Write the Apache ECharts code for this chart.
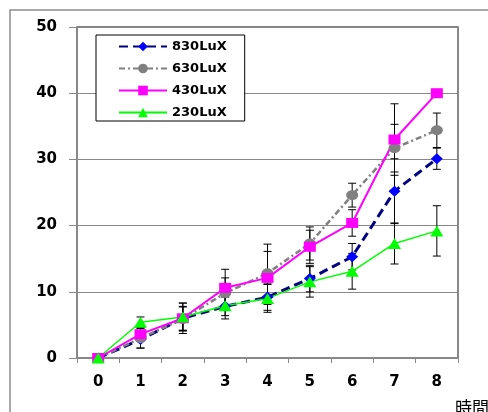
<!DOCTYPE html>
<html>
<head>
<meta charset="utf-8">
<script src="https://cdn.jsdelivr.net/npm/echarts@6/dist/echarts.min.js"></script>
<style>
  html, body { margin: 0; padding: 0; background: #fff; }
  #chart { width: 488px; height: 412px; }
</style>
</head>
<body>
<div id="chart"></div>
<script>
// 経過時間 (x軸カテゴリ)
const hours = ['0', '1', '2', '3', '4', '5', '6', '7', '8'];

// 照度ごとの平均値
const lux830 = [0, 2.8, 6.0, 7.8, 9.2, 12.0, 15.3, 25.2, 30.1];
const lux630 = [0, 3.0, 5.9, 9.8, 12.8, 17.3, 24.6, 31.7, 34.4];
const lux430 = [0, 3.6, 6.0, 10.6, 12.1, 16.8, 20.4, 33.0, 40.0];
const lux230 = [0, 5.4, 6.2, 7.9, 9.0, 11.5, 13.1, 17.3, 19.2];

// 誤差 (±)
const err830 = [0, 1.3, 2.3, 1.4, 2.0, 2.0, 2.0, 4.9, 1.6];
const err630 = [0, 1.5, 1.8, 2.3, 4.4, 2.5, 1.8, 3.6, 2.6];
const err430 = [0, 0.9, 1.8, 2.8, 4.0, 2.5, 2.0, 5.4, 0.5];
const err230 = [0, 0.8, 2.1, 2.0, 2.1, 2.3, 2.7, 3.1, 3.8];

const yTicks = [0, 10, 20, 30, 40, 50];

const chart = echarts.init(document.getElementById('chart'));

// エラーバー用の custom series
function errorBars(vals, errs) {
  return {
    type: 'custom',
    silent: true,
    z: 1,
    encode: { x: 0, y: 1 },
    data: vals.map((v, i) => [i, v, errs[i]]),
    renderItem: function (params, api) {
      const e = api.value(2);
      if (!e) return null;
      const x = api.value(0);
      const y = api.value(1);
      const top = api.coord([x, y + e]);
      const bot = api.coord([x, y - e]);
      const hw = 4;
      const st = { stroke: '#000', lineWidth: 1 };
      return {
        type: 'group',
        children: [
          { type: 'line', shape: { x1: top[0], y1: top[1], x2: bot[0], y2: bot[1] }, style: st },
          { type: 'line', shape: { x1: top[0] - hw, y1: top[1], x2: top[0] + hw, y2: top[1] }, style: st },
          { type: 'line', shape: { x1: bot[0] - hw, y1: bot[1], x2: bot[0] + hw, y2: bot[1] }, style: st }
        ]
      };
    }
  };
}

function lineSeries(name, data, lineColor, markColor, width, dash, symbol, size) {
  return {
    name: name,
    type: 'line',
    data: data,
    z: 3,
    symbol: symbol,
    symbolSize: size,
    lineStyle: { color: lineColor, width: width, type: dash },
    itemStyle: { color: markColor, borderWidth: 0 },
    emphasis: { disabled: true }
  };
}

const option = {
  animation: false,
  textStyle: { fontFamily: 'DejaVu Sans' },
  graphic: [
    {
      type: 'rect',
      shape: { x: 10, y: 10, width: 600, height: 600 },
      style: { fill: 'none', stroke: '#8c8c8c', lineWidth: 1.5 },
      silent: true
    },
    {
      type: 'text',
      left: 455,
      top: 399,
      style: { text: '時間', fontSize: 17, fill: '#000', fontFamily: 'Noto Sans CJK JP' }
    }
  ],
  legend: {
    orient: 'vertical',
    left: 96,
    top: 35,
    data: ['830LuX', '630LuX', '430LuX', '230LuX'],
    itemWidth: 48,
    itemHeight: 12,
    itemGap: 9,
    padding: [5, 18, 2, 22],
    backgroundColor: '#fff',
    borderColor: '#000',
    borderWidth: 1,
    borderRadius: 0,
    textStyle: { fontSize: 13, fontWeight: 'bold', color: '#000', fontFamily: 'DejaVu Sans' }
  },
  grid: {
    left: 77,
    top: 27,
    right: 30,
    bottom: 54,
    show: true,
    borderColor: '#000',
    borderWidth: 1,
    backgroundColor: '#fff'
  },
  xAxis: {
    type: 'category',
    data: hours,
    boundaryGap: true,
    axisLine: { lineStyle: { color: '#888', width: 2 } },
    axisTick: { show: true, length: 5, inside: false, lineStyle: { color: '#888' } },
    axisLabel: { margin: 17, fontSize: 15, fontWeight: 'bold', color: '#000' },
    splitLine: { show: false }
  },
  yAxis: [
    {
      type: 'value',
      min: yTicks[0],
      max: yTicks[yTicks.length - 1],
      interval: 10,
      axisLine: { show: true, lineStyle: { color: '#888', width: 2 } },
      axisTick: { show: true, length: 8, lineStyle: { color: '#888' } },
      axisLabel: { margin: 20, fontSize: 15, fontWeight: 'bold', color: '#000' },
      splitLine: { show: true, lineStyle: { color: '#888', width: 1 } }
    },
    {
      type: 'value',
      position: 'right',
      min: yTicks[0],
      max: yTicks[yTicks.length - 1],
      interval: 10,
      axisLine: { show: true, lineStyle: { color: '#888', width: 2 } },
      axisTick: { show: false },
      axisLabel: { show: false },
      splitLine: { show: false }
    }
  ],
  series: [
    errorBars(lux830, err830),
    errorBars(lux630, err630),
    errorBars(lux430, err430),
    errorBars(lux230, err230),
    lineSeries('830LuX', lux830, '#000080', '#0000ff', 3, [9, 5], 'diamond', [12, 11]),
    lineSeries('630LuX', lux630, '#808080', '#808080', 2.5, [6, 3, 2, 3], 'circle', [12, 10]),
    lineSeries('430LuX', lux430, '#ff00ff', '#ff00ff', 2, 'solid', 'rect', [12, 10]),
    lineSeries('230LuX', lux230, '#00ff00', '#00ff00', 1.5, 'solid', 'triangle', [13, 11])
  ]
};

chart.setOption(option);
</script>
</body>
</html>
